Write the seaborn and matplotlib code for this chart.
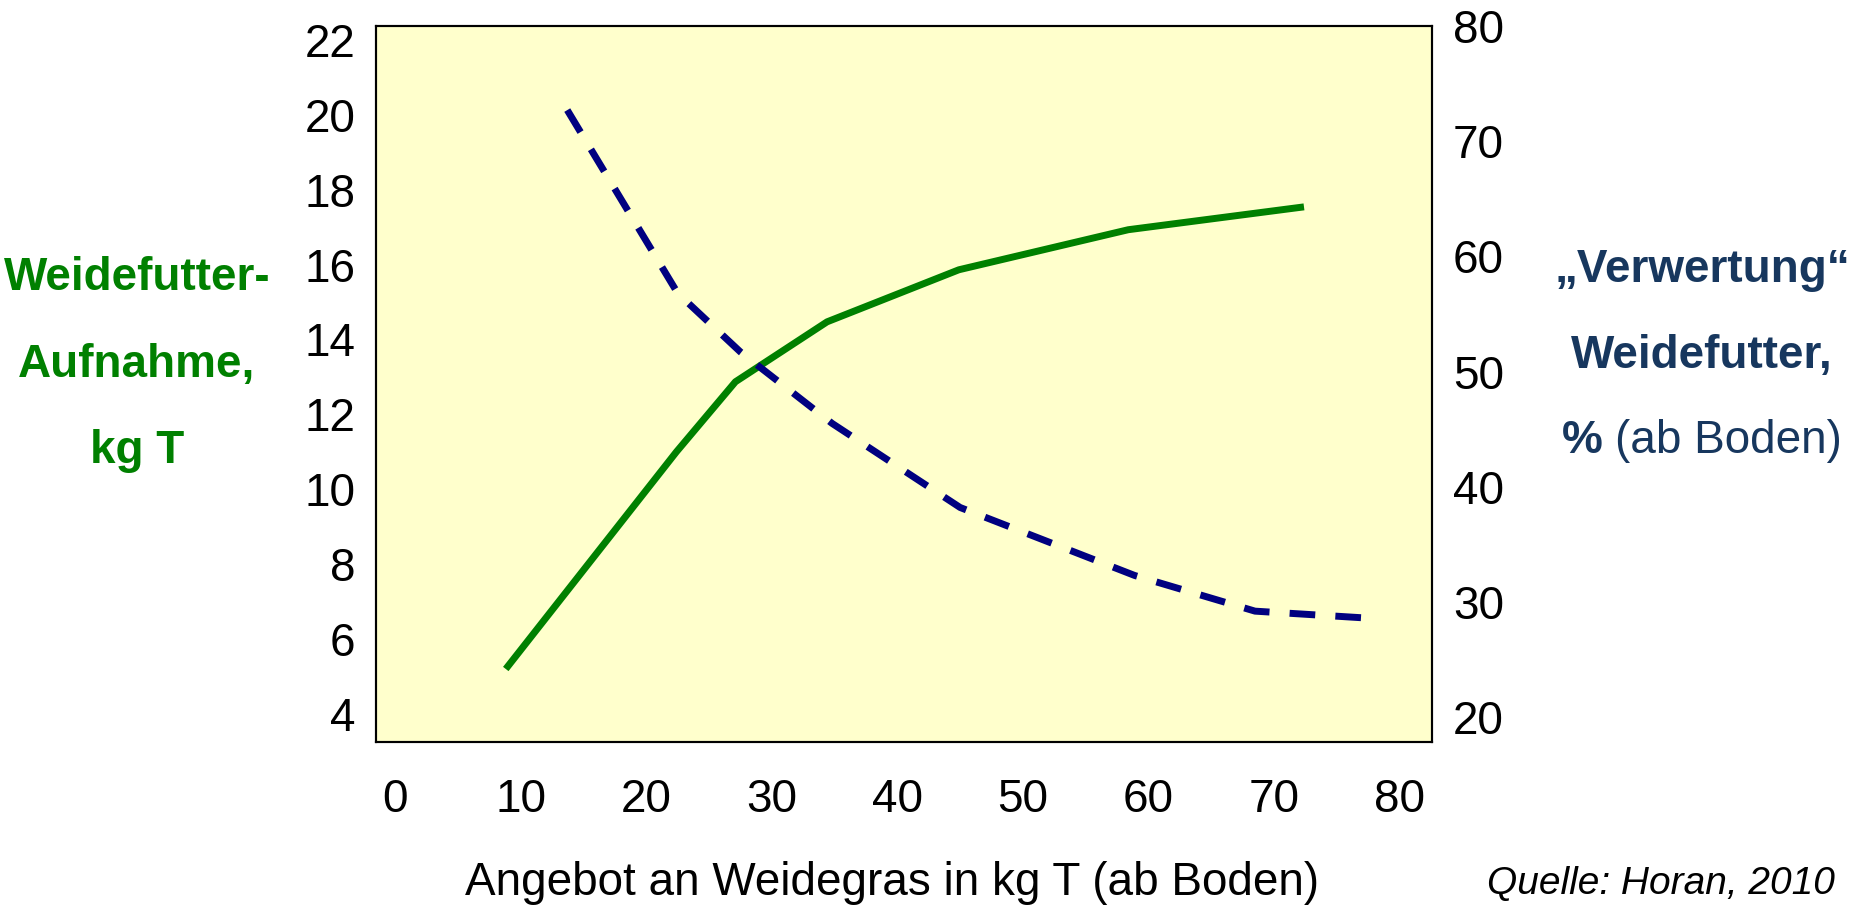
import matplotlib
matplotlib.use("Agg")
import matplotlib.pyplot as plt
import seaborn as sns

# ---- data ----
supply_intake = [8.8, 22.4, 27.1, 34.4, 44.9, 58.4, 72.4]          # kg T offered
intake = [5.2, 11.0, 12.87, 14.47, 15.86, 16.93, 17.54]            # Weidefutter-Aufnahme, kg T
supply_util = [13.7, 22.5, 27.5, 34.8, 45.0, 58.9, 68.5, 77.4]    # kg T offered
utilisation = [72.7, 56.8, 51.7, 45.5, 38.2, 32.3, 29.2, 28.6]    # Verwertung, %
x_ticks = [0, 10, 20, 30, 40, 50, 60, 70, 80]
left_ticks = [4, 6, 8, 10, 12, 14, 16, 18, 20, 22]
right_ticks = [20, 30, 40, 50, 60, 70, 80]

GREEN = "#008000"
NAVY = "#000080"
LABEL_BLUE = "#17375E"
W, H = 1864, 909

sns.set_style("white")
plt.rcParams["font.family"] = ["Liberation Sans", "DejaVu Sans"]

fig = plt.figure(figsize=(W / 100, H / 100), dpi=100)
ax = fig.add_axes([376 / W, 1 - 742 / H, (1432 - 376) / W, (742 - 26) / H])
ax.set_facecolor("#FFFFCC")

sns.lineplot(x=supply_intake, y=intake, ax=ax, color=GREEN, linewidth=5,
             solid_capstyle="butt")
ax2 = ax.twinx()
sns.lineplot(x=supply_util, y=utilisation, ax=ax2, color=NAVY, linewidth=5)
ax2.lines[0].set_dashes((3.7, 2.9))
ax2.lines[0].set_dash_capstyle("butt")

ax.set_xlim(-1.54, 82.6)
ax.set_ylim(3.25, 22.37)
ax2.set_ylim(17.84, 79.74)
ax.set_xticks(x_ticks)
ax.set_yticks(left_ticks)
ax2.set_yticks(right_ticks)
ax.set_xticklabels([str(v) for v in x_ticks])
ax.set_yticklabels([str(v) for v in left_ticks])
ax2.set_yticklabels([str(v) for v in right_ticks])

ax.tick_params(axis="both", length=0, labelsize=33, colors="black")
ax.tick_params(axis="y", pad=15)
ax.tick_params(axis="x", pad=26)
ax2.tick_params(axis="y", length=0, labelsize=33, pad=15, colors="black")
ax.grid(False)
ax2.grid(False)
for a in (ax, ax2):
    for s in a.spines.values():
        s.set_visible(True)
        s.set_color("black")
        s.set_linewidth(1.5)

def fx(px):
    return px / W

def fy(py):
    return 1 - py / H

# left axis title (green)
for txt, base in [("Weidefutter-", 290), ("Aufnahme,", 377), ("kg T", 463)]:
    fig.text(fx(137), fy(base), txt, color=GREEN, fontsize=33, fontweight="bold",
             ha="center", va="baseline")

# right axis title (dark blue)
for txt, base in [("\u201EVerwertung\u201C", 282), ("Weidefutter,", 368)]:
    fig.text(fx(1702), fy(base), txt, color=LABEL_BLUE, fontsize=33, fontweight="bold",
             ha="center", va="baseline")

renderer = fig.canvas.get_renderer()
t1 = fig.text(0, fy(453), "% ", color=LABEL_BLUE, fontsize=33, fontweight="bold",
              ha="left", va="baseline")
t2 = fig.text(0, fy(453), "(ab Boden)", color=LABEL_BLUE, fontsize=33,
              ha="left", va="baseline")
w1 = t1.get_window_extent(renderer).width
w2 = t2.get_window_extent(renderer).width
start = 1702 - (w1 + w2) / 2
t1.set_x(fx(start))
t2.set_x(fx(start + w1))

# x axis title and source
fig.text(fx(892), fy(895), "Angebot an Weidegras in kg T (ab Boden)", fontsize=33,
         ha="center", va="baseline", color="black")
fig.text(fx(1661), fy(894), "Quelle: Horan, 2010", fontsize=28, style="italic",
         ha="center", va="baseline", color="black")

fig.savefig("out.png", dpi=100)
